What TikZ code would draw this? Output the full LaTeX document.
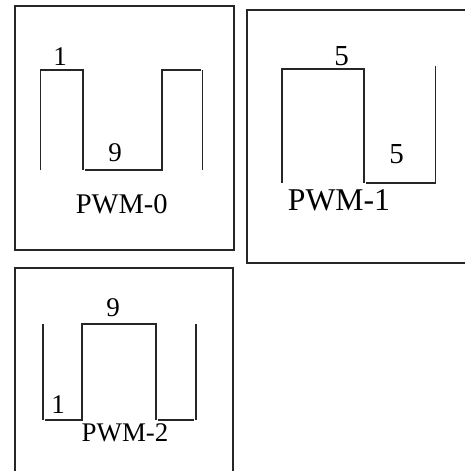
\documentclass[tikz,border=0pt]{standalone}
\usepackage{fontspec}
\setmainfont{Liberation Serif}
\begin{document}
\begin{tikzpicture}[x=1pt,y=-1pt,
  frame/.style={line width=1.4pt,draw=black!85},
  wave/.style={line width=1.4pt,draw=black!85},
  lbl/.style={inner sep=0pt,anchor=base,font=\fontsize{27}{30}\selectfont},
  big/.style={inner sep=0pt,anchor=base}]
\useasboundingbox (0,0) rectangle (464,471);
% frames
\draw[frame] (15,6) rectangle (234,250);
\draw[frame] (466,10) -- (247,10) -- (247,263) -- (466,263);
\draw[frame] (15,473) -- (15,268) -- (233,268) -- (233,473);
% PWM-0
\draw[wave] (40.7,170) -- (40.7,70) -- (83,70) -- (83,170);
\draw[wave] (85,170) -- (162,170) -- (162,70) -- (201,70);
\draw[wave] (202.5,70) -- (202.5,170);
\node[lbl] (a1) at (60,65) {1};
\node[lbl] (a9) at (115,161.5) {9};
\node[big,font=\fontsize{28.5}{32}\selectfont] (p0) at (121.7,213.3) {PWM-0};
% PWM-1
\draw[wave] (282,183) -- (282,69) -- (364,69) -- (364,183);
\draw[wave] (366,183) -- (435.5,183) -- (435.5,66);
\node[lbl,font=\fontsize{29}{32}\selectfont] (b5a) at (341.7,65) {5};
\node[lbl,font=\fontsize{29}{32}\selectfont] (b5b) at (396.7,163.3) {5};
\node[big,font=\fontsize{31.7}{35}\selectfont] (p1) at (339,210) {PWM-1};
% PWM-2
\draw[wave] (43,324) -- (43,420);
\draw[wave] (45,420) -- (82,420) -- (82,324) -- (156,324) -- (156,420);
\draw[wave] (157.5,420) -- (193.5,420);
\draw[wave] (196,324) -- (196,420);
\node[lbl] (c9) at (113,316.7) {9};
\node[lbl] (c1) at (58,413.3) {1};
\node[big,font=\fontsize{26.9}{30}\selectfont] (p2) at (125,441.7) {PWM-2};
\end{tikzpicture}
\end{document}
